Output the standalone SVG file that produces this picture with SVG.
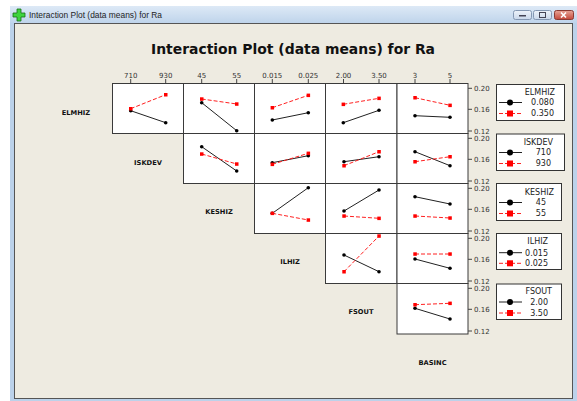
<svg xmlns="http://www.w3.org/2000/svg" width="577" height="401" viewBox="0 0 577 401">
<defs>
<linearGradient id="tb" x1="0" y1="0" x2="0" y2="1">
<stop offset="0" stop-color="#DDE9F6"/>
<stop offset="1" stop-color="#BFD4EB"/>
</linearGradient>
<linearGradient id="btn" x1="0" y1="0" x2="0" y2="1">
<stop offset="0" stop-color="#EEF3FA"/>
<stop offset="1" stop-color="#C9D7EA"/>
</linearGradient>
<linearGradient id="cls" x1="0" y1="0" x2="0" y2="1">
<stop offset="0" stop-color="#E8A597"/>
<stop offset="1" stop-color="#C4473A"/>
</linearGradient>
</defs>
<style>
.pn{fill:#fff;stroke:#3a3a3a;stroke-width:1}
.bk{stroke:#222;stroke-width:1;fill:none}
.rd{stroke:#ff2020;stroke-width:1;stroke-dasharray:4 2;fill:none}
.bm{fill:#000}
.rm{fill:#f00}
.tk{stroke:#444;stroke-width:1}
.tl{font-family:"DejaVu Sans",sans-serif;font-size:7px;fill:#333}
.rl{font-family:"DejaVu Sans",sans-serif;font-size:6.7px;font-weight:bold;fill:#111;text-anchor:middle}
.lg{fill:#fff;stroke:#333;stroke-width:1}
.lt{font-family:"DejaVu Sans",sans-serif;font-size:8px;fill:#222;text-anchor:end}
</style>
<rect x="0" y="0" width="577" height="401" fill="#fff"/>
<g id="window">
<rect x="10" y="6" width="567" height="395" fill="#BCD2EA"/>
<rect x="10" y="6" width="567" height="17" fill="url(#tb)"/>
<path d="M17,9h4v4h4v4h-4v4h-4v-4h-4v-4h4z" fill="#3ED43E" stroke="#176F17" stroke-width="0.8"/>
<text x="29" y="18" font-family="'Liberation Sans',sans-serif" font-size="9" fill="#1e1e1e" textLength="133" lengthAdjust="spacingAndGlyphs">Interaction Plot (data means) for Ra</text>
<rect x="513.5" y="10.5" width="18" height="9" rx="2" fill="url(#btn)" stroke="#8497B2"/>
<rect x="519" y="15" width="7" height="1.5" fill="#445"/>
<rect x="533.5" y="10.5" width="18" height="9" rx="2" fill="url(#btn)" stroke="#8497B2"/>
<rect x="539.5" y="12.5" width="6" height="5" fill="none" stroke="#445" stroke-width="1"/>
<rect x="554.5" y="10.5" width="19" height="9" rx="2" fill="url(#cls)" stroke="#8A3A32"/>
<path d="M561,12.5l5,5M566,12.5l-5,5" stroke="#fff" stroke-width="1.6"/>
<rect x="14.5" y="23.5" width="558" height="375" fill="#EEEBE1" stroke="#555" stroke-width="1"/>
</g>
<text id="title" x="293" y="54" text-anchor="middle" font-family="'DejaVu Sans',sans-serif" font-size="14" font-weight="bold" fill="#111" textLength="284" lengthAdjust="spacingAndGlyphs">Interaction Plot (data means) for Ra</text>
<g id="panels">
<rect class="pn" x="112.5" y="83.5" width="71" height="50"/>
<rect class="pn" x="183.5" y="83.5" width="71" height="50"/>
<rect class="pn" x="254.5" y="83.5" width="71" height="50"/>
<rect class="pn" x="325.5" y="83.5" width="71.5" height="50"/>
<rect class="pn" x="397" y="83.5" width="71" height="50"/>
<rect class="pn" x="183.5" y="133.5" width="71" height="50"/>
<rect class="pn" x="254.5" y="133.5" width="71" height="50"/>
<rect class="pn" x="325.5" y="133.5" width="71.5" height="50"/>
<rect class="pn" x="397" y="133.5" width="71" height="50"/>
<rect class="pn" x="254.5" y="183.5" width="71" height="50"/>
<rect class="pn" x="325.5" y="183.5" width="71.5" height="50"/>
<rect class="pn" x="397" y="183.5" width="71" height="50"/>
<rect class="pn" x="325.5" y="233.5" width="71.5" height="50"/>
<rect class="pn" x="397" y="233.5" width="71" height="50"/>
<rect class="pn" x="397" y="283.5" width="71" height="50.5"/>
</g>
<g id="top-axis">
<g class="tk">
<line x1="130.7" y1="79" x2="130.7" y2="83"/><line x1="165.7" y1="79" x2="165.7" y2="83"/>
<line x1="201.7" y1="79" x2="201.7" y2="83"/><line x1="236.7" y1="79" x2="236.7" y2="83"/>
<line x1="272.3" y1="79" x2="272.3" y2="83"/><line x1="308.3" y1="79" x2="308.3" y2="83"/>
<line x1="343.5" y1="79" x2="343.5" y2="83"/><line x1="379" y1="79" x2="379" y2="83"/>
<line x1="415" y1="79" x2="415" y2="83"/><line x1="450" y1="79" x2="450" y2="83"/>
</g>
<g class="tl" text-anchor="middle">
<text x="130.7" y="77.5">710</text><text x="165.7" y="77.5">930</text>
<text x="201.7" y="77.5">45</text><text x="236.7" y="77.5">55</text>
<text x="272.3" y="77.5">0.015</text><text x="308.3" y="77.5">0.025</text>
<text x="343.5" y="77.5">2.00</text><text x="379" y="77.5">3.50</text>
<text x="415" y="77.5">3</text><text x="450" y="77.5">5</text>
</g>
</g>
<g id="right-axis">
<g class="tk">
<line x1="468" y1="88.3" x2="472" y2="88.3"/><line x1="468" y1="109.3" x2="472" y2="109.3"/><line x1="468" y1="131" x2="472" y2="131"/>
<line x1="468" y1="138.3" x2="472" y2="138.3"/><line x1="468" y1="159.3" x2="472" y2="159.3"/><line x1="468" y1="181" x2="472" y2="181"/>
<line x1="468" y1="188.3" x2="472" y2="188.3"/><line x1="468" y1="209.3" x2="472" y2="209.3"/><line x1="468" y1="231" x2="472" y2="231"/>
<line x1="468" y1="238.3" x2="472" y2="238.3"/><line x1="468" y1="259.3" x2="472" y2="259.3"/><line x1="468" y1="281" x2="472" y2="281"/>
<line x1="468" y1="288.3" x2="472" y2="288.3"/><line x1="468" y1="309.3" x2="472" y2="309.3"/><line x1="468" y1="331" x2="472" y2="331"/>
</g>
<g class="tl">
<text x="474" y="90.8">0.20</text><text x="474" y="111.8">0.16</text><text x="474" y="133.5">0.12</text>
<text x="474" y="140.8">0.20</text><text x="474" y="161.8">0.16</text><text x="474" y="183.5">0.12</text>
<text x="474" y="190.8">0.20</text><text x="474" y="211.8">0.16</text><text x="474" y="233.5">0.12</text>
<text x="474" y="240.8">0.20</text><text x="474" y="261.8">0.16</text><text x="474" y="283.5">0.12</text>
<text x="474" y="290.8">0.20</text><text x="474" y="311.8">0.16</text><text x="474" y="333.5">0.12</text>
</g>
</g>
<g id="row-labels">
<text class="rl" x="76" y="114.5">ELMHIZ</text>
<text class="rl" x="148" y="164.5">ISKDEV</text>
<text class="rl" x="219" y="214">KESHIZ</text>
<text class="rl" x="290" y="264">ILHIZ</text>
<text class="rl" x="361" y="314">FSOUT</text>
<text class="rl" x="432.5" y="364.5">BASINC</text>
</g>
<g id="connectors">
<g class="bk">
<line x1="130.7" y1="110.7" x2="165.7" y2="122.7"/>
<line x1="201.7" y1="102.7" x2="236.7" y2="130.7"/>
<line x1="272.3" y1="120" x2="308.3" y2="112.7"/>
<line x1="343.3" y1="122.7" x2="379" y2="110.3"/>
<line x1="415" y1="115.7" x2="450" y2="117.3"/>
<line x1="201.7" y1="146.7" x2="236.7" y2="171"/>
<line x1="272.3" y1="162.7" x2="308.3" y2="155.7"/>
<line x1="344" y1="161.7" x2="379" y2="156.7"/>
<line x1="415" y1="151.7" x2="450" y2="165.7"/>
<line x1="272.3" y1="213.3" x2="308.3" y2="187.7"/>
<line x1="344" y1="211" x2="379" y2="190"/>
<line x1="415" y1="196.7" x2="450" y2="204"/>
<line x1="344" y1="255" x2="379" y2="271.7"/>
<line x1="415" y1="259" x2="450" y2="268.3"/>
<line x1="415" y1="308.3" x2="450" y2="319"/>
</g>
<g class="rd">
<line x1="130.7" y1="108.7" x2="165.7" y2="94.7"/>
<line x1="201.7" y1="99" x2="236.7" y2="104"/>
<line x1="272.3" y1="107.7" x2="308.3" y2="95.3"/>
<line x1="343.3" y1="104.3" x2="379" y2="98.3"/>
<line x1="415" y1="97.7" x2="450" y2="105.3"/>
<line x1="201.7" y1="154" x2="236.7" y2="164"/>
<line x1="272.3" y1="164.3" x2="308.3" y2="153.3"/>
<line x1="344" y1="165.7" x2="379" y2="151.7"/>
<line x1="415" y1="161.7" x2="450" y2="156.7"/>
<line x1="272.3" y1="213.3" x2="308.3" y2="220"/>
<line x1="344" y1="216" x2="379" y2="218.3"/>
<line x1="415" y1="216" x2="450" y2="218"/>
<line x1="344" y1="271.7" x2="379" y2="236"/>
<line x1="415" y1="254" x2="450" y2="254"/>
<line x1="415" y1="304.7" x2="450" y2="303.3"/>
</g>
<g class="bm">
<circle cx="130.7" cy="110.7" r="1.8"/><circle cx="165.7" cy="122.7" r="1.8"/>
<circle cx="201.7" cy="102.7" r="1.8"/><circle cx="236.7" cy="130.7" r="1.8"/>
<circle cx="272.3" cy="120" r="1.8"/><circle cx="308.3" cy="112.7" r="1.8"/>
<circle cx="343.3" cy="122.7" r="1.8"/><circle cx="379" cy="110.3" r="1.8"/>
<circle cx="415" cy="115.7" r="1.8"/><circle cx="450" cy="117.3" r="1.8"/>
<circle cx="201.7" cy="146.7" r="1.8"/><circle cx="236.7" cy="171" r="1.8"/>
<circle cx="272.3" cy="162.7" r="1.8"/><circle cx="308.3" cy="155.7" r="1.8"/>
<circle cx="344" cy="161.7" r="1.8"/><circle cx="379" cy="156.7" r="1.8"/>
<circle cx="415" cy="151.7" r="1.8"/><circle cx="450" cy="165.7" r="1.8"/>
<circle cx="272.3" cy="213.3" r="1.8"/><circle cx="308.3" cy="187.7" r="1.8"/>
<circle cx="344" cy="211" r="1.8"/><circle cx="379" cy="190" r="1.8"/>
<circle cx="415" cy="196.7" r="1.8"/><circle cx="450" cy="204" r="1.8"/>
<circle cx="344" cy="255" r="1.8"/><circle cx="379" cy="271.7" r="1.8"/>
<circle cx="415" cy="259" r="1.8"/><circle cx="450" cy="268.3" r="1.8"/>
<circle cx="415" cy="308.3" r="1.8"/><circle cx="450" cy="319" r="1.8"/>
</g>
<g class="rm">
<rect x="129" y="107" width="3.5" height="3.5"/><rect x="164" y="93" width="3.5" height="3.5"/>
<rect x="200" y="97.3" width="3.5" height="3.5"/><rect x="235" y="102.3" width="3.5" height="3.5"/>
<rect x="270.6" y="106" width="3.5" height="3.5"/><rect x="306.6" y="93.6" width="3.5" height="3.5"/>
<rect x="341.6" y="102.6" width="3.5" height="3.5"/><rect x="377.3" y="96.6" width="3.5" height="3.5"/>
<rect x="413.3" y="96" width="3.5" height="3.5"/><rect x="448.3" y="103.6" width="3.5" height="3.5"/>
<rect x="200" y="152.3" width="3.5" height="3.5"/><rect x="235" y="162.3" width="3.5" height="3.5"/>
<rect x="270.6" y="162.6" width="3.5" height="3.5"/><rect x="306.6" y="151.6" width="3.5" height="3.5"/>
<rect x="342.3" y="164" width="3.5" height="3.5"/><rect x="377.3" y="150" width="3.5" height="3.5"/>
<rect x="413.3" y="160" width="3.5" height="3.5"/><rect x="448.3" y="155" width="3.5" height="3.5"/>
<rect x="270.6" y="211.6" width="3.5" height="3.5"/><rect x="306.6" y="218.3" width="3.5" height="3.5"/>
<rect x="342.3" y="214.3" width="3.5" height="3.5"/><rect x="377.3" y="216.6" width="3.5" height="3.5"/>
<rect x="413.3" y="214.3" width="3.5" height="3.5"/><rect x="448.3" y="216.3" width="3.5" height="3.5"/>
<rect x="342.3" y="270" width="3.5" height="3.5"/><rect x="377.3" y="234.3" width="3.5" height="3.5"/>
<rect x="413.3" y="252.3" width="3.5" height="3.5"/><rect x="448.3" y="252.3" width="3.5" height="3.5"/>
<rect x="413.3" y="303" width="3.5" height="3.5"/><rect x="448.3" y="301.6" width="3.5" height="3.5"/>
</g>
</g>
<g id="legend-ELMHIZ">
<rect class="lg" x="496.5" y="84.5" width="68" height="36"/>
<text class="lt" x="555" y="95">ELMHIZ</text>
<line class="bk" x1="499" y1="102.5" x2="522" y2="102.5"/><circle class="bm" cx="510" cy="102.5" r="3"/>
<text class="lt" x="554" y="105.3">0.080</text>
<line class="rd" x1="499" y1="113.5" x2="522" y2="113.5"/><rect class="rm" x="507" y="110.5" width="6" height="6"/>
<text class="lt" x="554" y="116.3">0.350</text>
</g>
<g id="legend-ISKDEV">
<rect class="lg" x="496.5" y="134" width="68" height="36.5"/>
<text class="lt" x="553" y="144.5">ISKDEV</text>
<line class="bk" x1="499" y1="152.5" x2="522" y2="152.5"/><circle class="bm" cx="510" cy="152.5" r="3"/>
<text class="lt" x="551" y="155.3">710</text>
<line class="rd" x1="499" y1="163.5" x2="522" y2="163.5"/><rect class="rm" x="507" y="160.5" width="6" height="6"/>
<text class="lt" x="551" y="166.3">930</text>
</g>
<g id="legend-KESHIZ">
<rect class="lg" x="496.5" y="183.5" width="65" height="37"/>
<text class="lt" x="554" y="194.5">KESHIZ</text>
<line class="bk" x1="499" y1="202.5" x2="522" y2="202.5"/><circle class="bm" cx="510" cy="202.5" r="3"/>
<text class="lt" x="546" y="205.3">45</text>
<line class="rd" x1="499" y1="213.5" x2="522" y2="213.5"/><rect class="rm" x="507" y="210.5" width="6" height="6"/>
<text class="lt" x="546" y="216.3">55</text>
</g>
<g id="legend-ILHIZ">
<rect class="lg" x="496.5" y="233.5" width="65" height="36"/>
<text class="lt" x="548" y="244">ILHIZ</text>
<line class="bk" x1="499" y1="252.7" x2="522" y2="252.7"/><circle class="bm" cx="510" cy="252.7" r="3"/>
<text class="lt" x="548" y="255.5">0.015</text>
<line class="rd" x1="499" y1="263.3" x2="522" y2="263.3"/><rect class="rm" x="507" y="260.3" width="6" height="6"/>
<text class="lt" x="548" y="266.1">0.025</text>
</g>
<g id="legend-FSOUT">
<rect class="lg" x="496.5" y="284" width="65" height="35.5"/>
<text class="lt" x="552" y="294">FSOUT</text>
<line class="bk" x1="499" y1="302" x2="522" y2="302"/><circle class="bm" cx="510" cy="302" r="3"/>
<text class="lt" x="548" y="304.8">2.00</text>
<line class="rd" x1="499" y1="313" x2="522" y2="313"/><rect class="rm" x="507" y="310" width="6" height="6"/>
<text class="lt" x="548" y="315.8">3.50</text>
</g>
</svg>
